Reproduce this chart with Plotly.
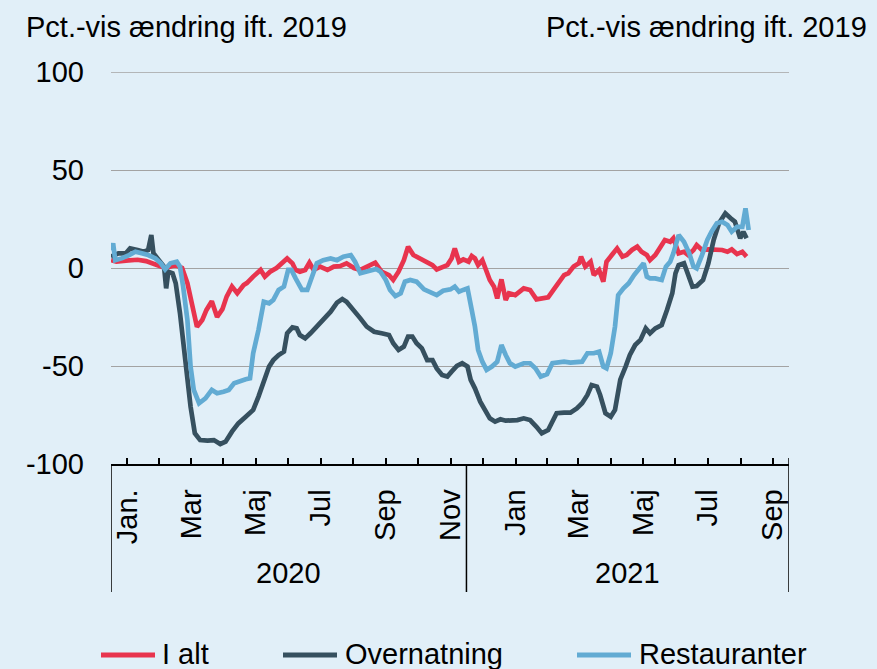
import pandas as pd
import plotly.graph_objects as go

START = pd.Timestamp("2020-01-01")
END = pd.Timestamp("2021-10-01")
YEAR_BREAK = pd.Timestamp("2020-12-01")

# ---- data: days since 2020-01-01 and percent change vs 2019 ----
ialt_days = [0, 5, 14, 25, 33, 42, 51, 61, 67, 72,
             76, 81, 86, 90, 95, 100, 105, 109, 114, 119,
             125, 128, 134, 141, 145, 150, 156, 161, 166, 171,
             174, 178, 183, 187, 191, 197, 204, 210, 216, 222,
             229, 235, 241, 249, 255, 262, 266, 271, 276, 280,
             285, 292, 298, 303, 307, 312, 317, 321, 324, 328,
             332, 337, 340, 343, 346, 350, 353, 357, 361, 364,
             368, 372, 375, 381, 389, 395, 401, 408, 412, 417,
             422, 427, 431, 436, 441, 443, 447, 452, 455, 460,
             464, 467, 472, 477, 482, 486, 491, 496, 500, 505,
             508, 513, 518, 522, 527, 530, 535, 540, 544, 549,
             552, 557, 563, 570, 576, 581, 585, 590, 595, 599]
ialt_vals = [4, 3.2, 3.8, 4.2, 3.5, 1.5, 0, 1.5, 0, -7.7,
             -18, -30, -26.5, -21.4, -17, -25, -21, -14.6, -9.5, -12.9,
             -8.7, -7.7, -4.4, -1, -4.4, -1.9, 0, 2.4, 4.9, 2.4,
             -1, -1.9, -1, 2.7, -1, 0.7, -1, 0.7, 1, 2.4,
             0, -1, 0.7, 2.7, -1.9, -3.6, -6.1, -1.9, 4, 10.9,
             6.6, 4.4, 3.2, 1.5, -0.7, 0.7, 1.5, 4.9, 10, 3.2,
             4.4, 3.2, 6.1, 4.9, 1.5, 4, -1, -6.1, -9.5, -15.5,
             -5.8, -16.3, -12.9, -13.8, -10.4, -11.2, -16, -15.5, -15, -11.2,
             -7.8, -3.6, -2.7, 0.7, 2.4, 5.8, 0.7, 3.2, -3.6, -1,
             -7, 3.2, 6.6, 10, 5.8, 6.6, 9.2, 10.9, 8.3, 6.6,
             4, 6.6, 10.9, 14.3, 13.4, 15.2, 7.5, 8.3, 6.6, 9.2,
             11.7, 9.2, 9.5, 9.5, 9.2, 8.3, 9.5, 7.1, 8.3, 5.8]

ov_days = [0, 7, 14, 18, 25, 31, 35, 38, 40, 45,
           50, 52, 54, 58, 61, 65, 70, 75, 79, 84,
           91, 97, 103, 108, 114, 120, 127, 134, 139, 144,
           149, 153, 158, 163, 166, 171, 175, 178, 183, 188,
           194, 200, 207, 213, 218, 222, 229, 235, 241, 248,
           255, 262, 266, 271, 276, 280, 284, 288, 293, 298,
           303, 307, 312, 317, 321, 326, 331, 336, 339, 343,
           348, 353, 357, 362, 367, 372, 378, 383, 389, 395,
           401, 406, 412, 417, 420, 427, 433, 439, 444, 449,
           453, 458, 461, 466, 471, 475, 480, 485, 489, 494,
           499, 504, 508, 513, 519, 524, 529, 532, 535, 540,
           544, 548, 552, 558, 563, 568, 573, 579, 584, 588,
           593, 596, 599]
ov_vals = [5.8, 7.5, 7.5, 10, 9.2, 8.3, 9.2, 16.8, 7.5, 4,
           0.7, -10.4, -1.9, -2.7, -7.8, -23, -48.6, -70.7, -84.3, -87.8,
           -88.1, -87.8, -89.8, -88.6, -83.5, -79.3, -75.9, -72.4, -65.6, -57,
           -50.3, -47, -44.4, -42.7, -33.3, -30.3, -30.8, -34.2, -35.9, -33.3,
           -29.9, -26.5, -22.3, -17.7, -15.8, -17.2, -21.4, -25.7, -29.9, -32.5,
           -33.3, -34.2, -38.4, -41.8, -40.1, -35, -35, -38.4, -41, -47,
           -47, -51.2, -54.6, -55.4, -52.9, -50, -48.6, -50.3, -57.1, -61.4,
           -68.2, -73.3, -76.7, -78.4, -77.2, -77.9, -77.6, -77.6, -76.7, -77.6,
           -81, -84.3, -82.7, -77.6, -74.1, -73.8, -73.8, -71.6, -69, -64.8,
           -59.7, -60.5, -64.8, -74.1, -75.9, -72.4, -57, -50.3, -44.4, -39.3,
           -36.7, -30.8, -33.3, -30.8, -29.1, -21.4, -12.9, -2.7, 1.5, 2.4,
           -4.4, -9.5, -9.2, -6.1, 2.4, 14.3, 22.8, 27.9, 25.4, 23.6,
           15.2, 18.5, 15.2]

rest_days = [0, 2, 4, 10, 17, 23, 29, 35, 42, 47,
             51, 56, 62, 65, 68, 72, 75, 78, 83, 89,
             95, 100, 106, 111, 116, 122, 127, 131, 134, 139,
             144, 149, 153, 158, 163, 167, 170, 174, 180, 185,
             189, 194, 200, 207, 213, 219, 226, 230, 235, 241,
             248, 250, 254, 259, 263, 268, 273, 277, 282, 288,
             295, 301, 307, 313, 320, 324, 328, 332, 336, 340,
             343, 346, 350, 354, 359, 364, 368, 372, 376, 381,
             389, 395, 400, 405, 411, 416, 422, 427, 433, 439,
             444, 449, 455, 460, 464, 467, 471, 475, 478, 483,
             488, 493, 497, 502, 505, 508, 513, 519, 523, 527,
             530, 535, 540, 545, 549, 552, 557, 562, 566, 571,
             576, 581, 585, 590, 595, 598, 601]
rest_vals = [9, 12.6, 4, 4.9, 6.6, 8.3, 7.5, 6.6, 4.9, 2.4,
             -0.7, 2.4, 3.2, 0.7, -9.5, -26.5, -50.3, -62.2, -69, -66.5,
             -62.2, -63.9, -63.1, -62.2, -58.8, -57.5, -56.8, -56.3, -43.5, -31.6,
             -17.2, -18, -16.3, -11.2, -9.5, -1, -1, -5.3, -11.2, -11.2,
             -4.4, 2.4, 4, 4.9, 4, 5.8, 6.6, 3.2, -2.7, -1.9,
             -1, -0.5, -1.9, -6.1, -11.2, -14.3, -12.9, -7, -6.1, -7,
             -10.9, -12.1, -13.8, -11.6, -10.9, -9.5, -12.1, -11.2, -10.4, -21.4,
             -29.9, -41.8, -47.8, -52, -50.3, -47.8, -39.3, -44.4, -48.6, -50.3,
             -48.6, -48.6, -51.2, -55.4, -54.1, -48.6, -48.3, -47.8, -48.3, -47.8,
             -47.8, -43.5, -43.5, -42.7, -50.3, -51.2, -43.5, -29.9, -13.8, -10.4,
             -7.8, -3.6, -1, 2.4, -4.4, -5.3, -5.3, -6.1, 0.7, 3.2,
             7.5, 16.8, 13.4, 7.5, 0.7, -0.2, 6.6, 14.3, 18.5, 22.8,
             23.6, 21.9, 18.5, 21, 21, 30.4, 19.4]

series_names = ["I alt", "Overnatning", "Restauranter"]
month_labels = ["Jan.", "", "Mar", "", "Maj", "", "Jul", "", "Sep", "", "Nov", "",
                "Jan", "", "Mar", "", "Maj", "", "Jul", "", "Sep"]
year_labels = ["2020", "2021"]
y_ticks = [-100, -50, 0, 50, 100]
y_ticktext = ["-100", "-50", "0", "50", "100"]
axis_title = "Pct.-vis ændring ift. 2019"

# ---- styling ----
COLORS = ["#E8344E", "#36505F", "#62ABD3"]
BG = "#E1EFF8"
GRID = "#A3A3A3"
FONT = "Liberation Sans, Arial, sans-serif"
FS = 29
W, H = 877, 669
L, R, T, B = 111, 88, 72, 205
PW, PH = W - L - R, H - T - B


def px_x(px):
    return (px - L) / PW


def px_y(py):
    return (H - B - py) / PH


def to_dates(days):
    return [START + pd.Timedelta(days=int(d)) for d in days]


fig = go.Figure()
for name, days, vals, col in zip(series_names,
                                 [ialt_days, ov_days, rest_days],
                                 [ialt_vals, ov_vals, rest_vals], COLORS):
    assert len(days) == len(vals)
    fig.add_trace(go.Scatter(x=to_dates(days), y=vals, mode="lines", name=name,
                             line=dict(color=col, width=4.7), showlegend=False))

months = pd.date_range("2020-01-01", "2021-09-01", freq="MS")
tickvals = [m + (m + pd.offsets.MonthBegin(1) - m) / 2 for m in months]

fig.update_layout(
    width=W, height=H,
    margin=dict(l=L, r=R, t=T, b=B, pad=0),
    paper_bgcolor=BG, plot_bgcolor=BG,
    font=dict(family=FONT, size=FS, color="#000000"),
    showlegend=False,
    xaxis=dict(type="date", range=[START, END], tickvals=tickvals, ticktext=month_labels,
               tickangle=-90, ticks="inside", ticklen=6, tickwidth=1.5, tickcolor="#000000",
               showline=True, linecolor="#000000", linewidth=1.5, showgrid=False,
               zeroline=False, ticklabelstandoff=12, tickfont=dict(size=FS)),
    yaxis=dict(range=[-100, 100], tickvals=y_ticks, ticktext=y_ticktext, showgrid=True,
               gridcolor=GRID, gridwidth=1.3, zeroline=False, showline=False, ticks="",
               ticklabelstandoff=26, tickfont=dict(size=FS)),
    yaxis2=dict(range=[-100, 100], tickvals=y_ticks, ticktext=y_ticktext, overlaying="y",
                side="right", showgrid=False, zeroline=False, showline=False, ticks="",
                ticklabelstandoff=22, tickfont=dict(size=FS)),
)

shapes = [dict(type="line", xref="paper", yref="y", x0=0, x1=1, y0=100, y1=100,
               layer="below", line=dict(color=GRID, width=1.3))]
for xv, up in [(START, 0), (YEAR_BREAK, 0), (END, 6 / PH)]:
    shapes.append(dict(type="line", xref="x", yref="paper", x0=xv, x1=xv,
                       y0=up, y1=px_y(592), line=dict(color="#000000", width=1.5)))

annotations = []
for lab, a, b in [(year_labels[0], START, YEAR_BREAK), (year_labels[1], YEAR_BREAK, END)]:
    annotations.append(dict(text=lab, xref="x", yref="paper", x=a + (b - a) / 2, y=px_y(573),
                            showarrow=False, xanchor="center", yanchor="middle",
                            font=dict(size=FS)))
annotations.append(dict(text=axis_title, xref="paper", yref="paper", x=px_x(24), y=px_y(27),
                        showarrow=False, xanchor="left", yanchor="middle"))
annotations.append(dict(text=axis_title, xref="paper", yref="paper", x=px_x(869), y=px_y(27),
                        showarrow=False, xanchor="right", yanchor="middle"))

# legend drawn manually
leg_pos = [(101, 155, 160), (283, 337, 343), (577, 631, 637)]
for (x0, x1, xt), name, col in zip(leg_pos, series_names, COLORS):
    shapes.append(dict(type="line", xref="paper", yref="paper", x0=px_x(x0), x1=px_x(x1),
                       y0=px_y(655), y1=px_y(655), line=dict(color=col, width=5)))
    annotations.append(dict(text=name, xref="paper", yref="paper", x=px_x(xt), y=px_y(654),
                            showarrow=False, xanchor="left", yanchor="middle"))

fig.update_layout(shapes=shapes, annotations=annotations)
fig.write_html("out.html", config={"displayModeBar": False},
               post_script="document.body.style.margin='0px';document.body.style.padding='0px';")
